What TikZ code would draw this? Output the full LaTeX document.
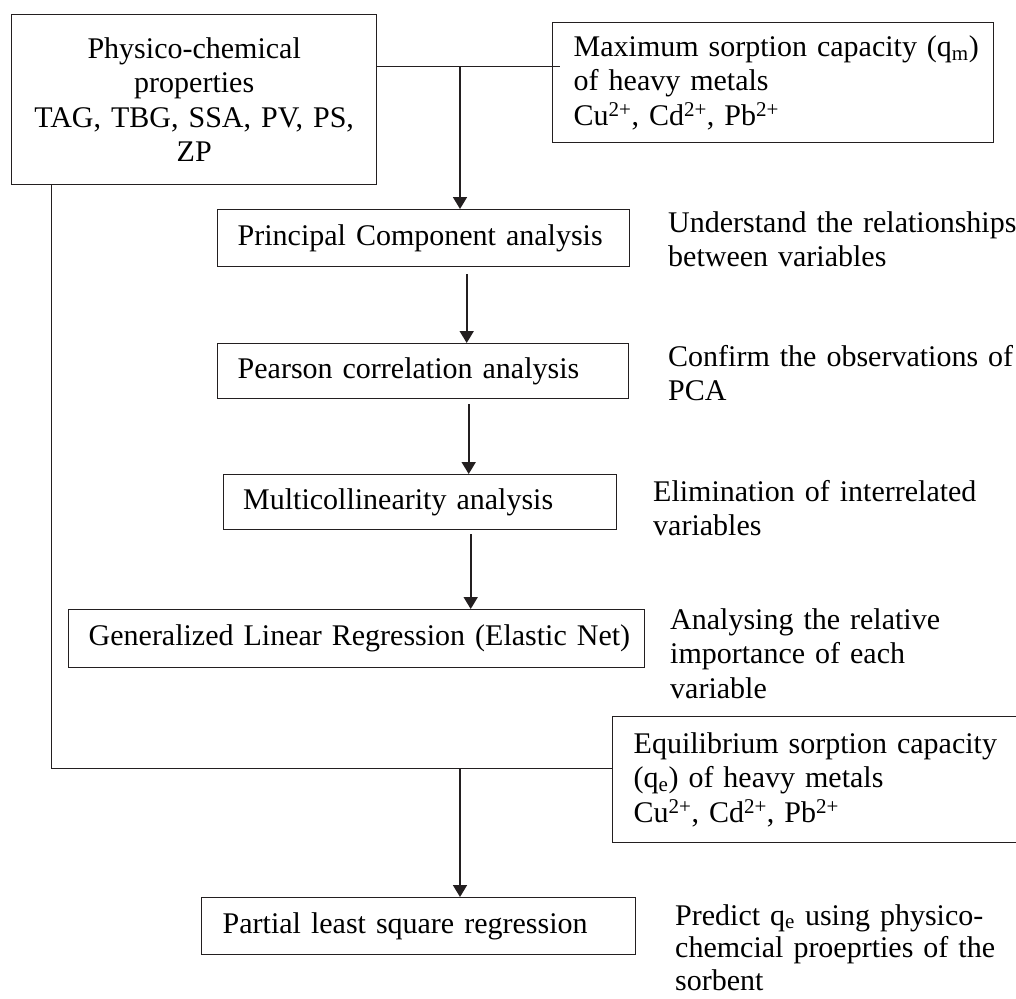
\documentclass[tikz,border=0pt]{standalone}
\usepackage{fontspec}
\setmainfont{Liberation Serif}
\usetikzlibrary{arrows.meta}
\definecolor{ink}{RGB}{35,31,32}

\begin{document}
\begin{tikzpicture}[x=1pt,y=-1pt,
		font=\fontsize{30}{34.5}\selectfont,
		box/.style={draw=ink,line width=1.4pt,anchor=north west,inner sep=0pt,align=left},
		note/.style={anchor=base west,inner sep=0pt,align=left,text width=350pt},
		link/.style={draw=ink,line width=0.9pt},
		arr/.style={draw=ink,line width=1.8pt,-{Triangle[length=12pt,width=14pt]}}]
		\useasboundingbox (0,0) rectangle (1016,998);
		\clip (0,0) rectangle (1016,998);
		\node[box,minimum width=365pt,minimum height=170pt,text width=345pt,align=center](phys) at (11,14){Physico-chemical\\properties\\TAG, TBG, SSA, PV, PS,\\ZP};
		\node[box,minimum width=441pt,minimum height=120pt,text width=399pt](qm) at (552,22){\mbox{Maximum sorption capacity (q\textsubscript{m})}\\of heavy metals\\Cu\textsuperscript{2+}, Cd\textsuperscript{2+}, Pb\textsuperscript{2+}};
		\node[box,minimum width=412pt,minimum height=57pt,text width=372pt](pca) at (217,209){Principal Component analysis};
		\node[box,minimum width=411pt,minimum height=55pt,text width=371pt](pearson) at (217,343){Pearson correlation analysis};
		\node[box,minimum width=393pt,minimum height=55pt,text width=354pt](multi) at (223,474){Multicollinearity analysis};
		\node[box,minimum width=576pt,minimum height=58pt,text width=536pt](glr) at (68,609){\mbox{Generalized Linear Regression (Elastic Net)}};
		\node[box,minimum width=420pt,minimum height=126pt,text width=378pt](equil) at (612,716){Equilibrium sorption capacity\\(q\textsubscript{e}) of heavy metals\\Cu\textsuperscript{2+}, Cd\textsuperscript{2+}, Pb\textsuperscript{2+}};
		\node[box,minimum width=434pt,minimum height=57pt,text width=392pt](pls) at (201,897){Partial least square regression};
		\node[note](why1) at (668,232){Understand the relationships\\between variables};
		\node[note](why2) at (668,366){Confirm the observations of\\PCA};
		\node[note](why3) at (653,501){Elimination of interrelated\\variables};
		\node[note](why4) at (670,629){Analysing the relative\\importance of each\\variable};
		\node[note,font=\fontsize{30}{32.5}\selectfont](why5) at (675,925){Predict q\textsubscript{e} using physico-\\chemcial proeprties of the\\sorbent};
		\coordinate (top) at (460,66);
		\coordinate (low) at (460,768);
		\draw[link] (phys.east|-top) -- ([xshift=8pt]qm.west|-top);
		\draw[arr] (top) -- (pca.north-|top);
		\draw[arr,shorten <=7pt] ([xshift=43pt]pca.south) -- ([xshift=43pt]pca.south|-pearson.north);
		\draw[arr,shorten <=5pt] ([xshift=45.5pt]pearson.south) -- ([xshift=45.5pt]pearson.south|-multi.north);
		\draw[arr,shorten <=4pt] ([xshift=50.5pt]multi.south) -- ([xshift=50.5pt]multi.south|-glr.north);
		\draw[link] ([xshift=40pt]phys.south west) |- (equil.west|-low);
		\draw[arr] (low) -- (pls.north-|low);
	\end{tikzpicture}
\end{document}
